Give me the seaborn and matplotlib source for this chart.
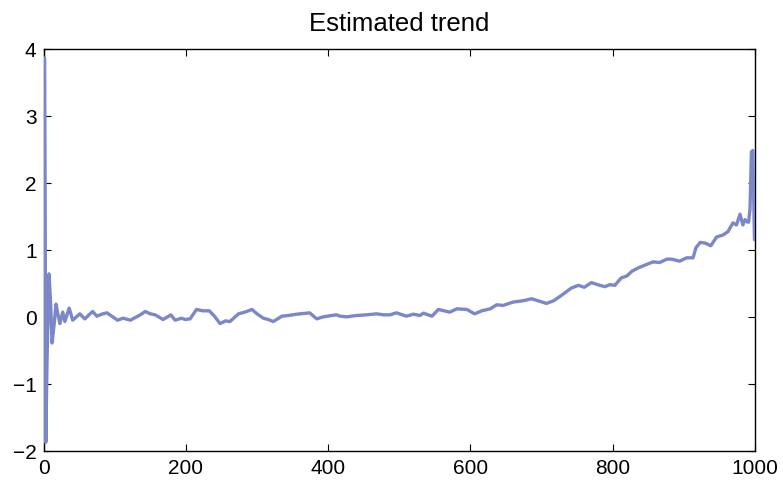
import matplotlib
matplotlib.use("Agg")
import matplotlib.pyplot as plt
import seaborn as sns
import pandas as pd

# Sample index and estimated trend value
step = [1.5, 2.2, 3.2, 5, 7.7, 10, 12, 15, 17.6, 20, 23, 27, 30, 36, 41, 51, 58, 69, 75,
        82, 89, 96, 104, 112, 122, 129, 136, 143, 150, 157, 168, 179, 185, 194, 199,
        206, 215, 224, 233, 241, 248, 256, 262, 274, 283, 293, 300, 309, 316, 323,
        335, 344, 356, 366, 374, 384, 393, 405, 412, 417, 426, 440, 454, 468, 478,
        487, 496, 510, 520, 529, 534, 546, 555, 571, 581, 595, 606, 616, 628, 637,
        646, 660, 674, 686, 695, 707, 717, 728, 742, 752, 760, 770, 782, 789, 796,
        803, 812, 820, 827, 836, 845, 857, 866, 876, 883, 894, 904, 913, 917, 923,
        930, 938, 946, 955, 962, 969, 974, 979, 983, 986, 988, 991, 993, 995, 997,
        999.3]
trend = [3.86, 2.0, -1.87, -0.6, 0.64, 0.2, -0.39, -0.1, 0.19, 0.05, -0.1, 0.07, -0.07,
         0.13, -0.05, 0.045, -0.03, 0.08, 0.01, 0.04, 0.06, 0.01, -0.05, -0.02, -0.05,
         -0.01, 0.03, 0.08, 0.045, 0.03, -0.04, 0.03, -0.05, -0.02, -0.04, -0.03, 0.11,
         0.09, 0.09, 0.0, -0.1, -0.06, -0.07, 0.045, 0.07, 0.11, 0.045, -0.02, -0.04,
         -0.07, 0.01, 0.02, 0.04, 0.05, 0.06, -0.03, 0.0, 0.02, 0.03, 0.01, 0.0, 0.02,
         0.03, 0.045, 0.03, 0.03, 0.06, 0.01, 0.04, 0.02, 0.055, 0.01, 0.11, 0.07, 0.12,
         0.11, 0.045, 0.09, 0.12, 0.18, 0.17, 0.22, 0.24, 0.27, 0.24, 0.2, 0.24, 0.32,
         0.43, 0.47, 0.44, 0.51, 0.47, 0.45, 0.48, 0.47, 0.58, 0.61, 0.68, 0.73, 0.77,
         0.82, 0.81, 0.86, 0.86, 0.83, 0.88, 0.88, 1.03, 1.11, 1.1, 1.06, 1.19, 1.22,
         1.27, 1.4, 1.37, 1.53, 1.37, 1.45, 1.42, 1.41, 1.6, 2.46, 2.48, 1.15]

x_ticks = [0, 200, 400, 600, 800, 1000]
y_ticks = [-2, -1, 0, 1, 2, 3, 4]
title_text = "Estimated trend"

df = pd.DataFrame({"step": step, "trend": trend})

sns.set_theme(style="white")
plt.rcParams["font.family"] = ["Liberation Sans", "DejaVu Sans"]
plt.rcParams["axes.linewidth"] = 1.0

fig = plt.figure(figsize=(7.83, 4.81), dpi=100)
ax = fig.add_axes([0.0556, 0.0603, 0.9086, 0.8367])

sns.lineplot(data=df, x="step", y="trend", ax=ax, color="#7b87c8",
             linewidth=2.4, estimator=None, sort=False, zorder=3)

ax.set_xlim(0, 1000)
ax.set_ylim(-2, 4)
ax.set_xticks(x_ticks)
ax.set_yticks(y_ticks)
ax.set_xticklabels([str(v) for v in x_ticks])
ax.set_yticklabels([str(v).replace("-", "\u2212") for v in y_ticks])
ax.set_xlabel("")
ax.set_ylabel("")
ax.set_title(title_text, fontsize=18.5, pad=13, color="black")

for s in ax.spines.values():
    s.set_visible(True)
    s.set_color("black")
    s.set_linewidth(1.0)

ax.tick_params(axis="both", which="both", direction="in", length=5, width=0.8,
               colors="black", labelsize=15, top=True, right=True,
               bottom=True, left=True)
ax.tick_params(axis="y", pad=5)
ax.tick_params(axis="x", pad=5)
ax.grid(False)

fig.savefig("out.png", dpi=100, facecolor="white")
